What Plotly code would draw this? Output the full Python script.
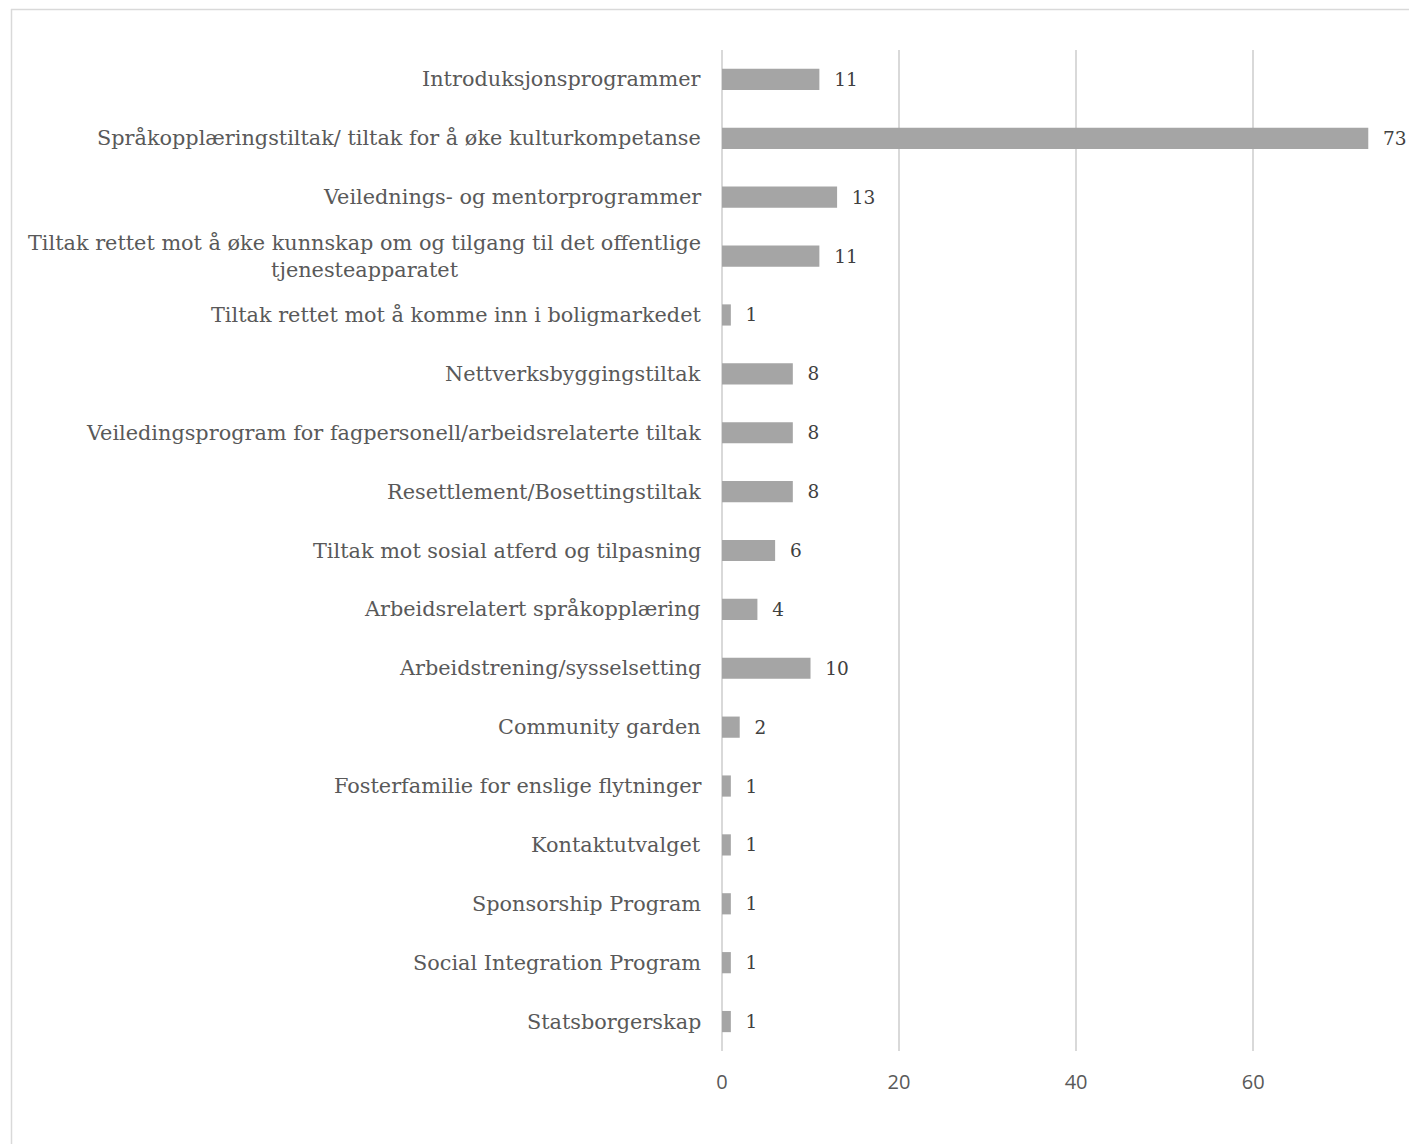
import plotly.graph_objects as go

categories = [
    "Introduksjonsprogrammer",
    "Språkopplæringstiltak/ tiltak for å øke kulturkompetanse",
    "Veilednings- og mentorprogrammer",
    "Tiltak rettet mot å øke kunnskap om og tilgang til det offentlige<br>tjenesteapparatet",
    "Tiltak rettet mot å komme inn i boligmarkedet",
    "Nettverksbyggingstiltak",
    "Veiledingsprogram for fagpersonell/arbeidsrelaterte tiltak",
    "Resettlement/Bosettingstiltak",
    "Tiltak mot sosial atferd og tilpasning",
    "Arbeidsrelatert språkopplæring",
    "Arbeidstrening/sysselsetting",
    "Community garden",
    "Fosterfamilie for enslige flytninger",
    "Kontaktutvalget",
    "Sponsorship Program",
    "Social Integration Program",
    "Statsborgerskap",
]
values = [11, 73, 13, 11, 1, 8, 8, 8, 6, 4, 10, 2, 1, 1, 1, 1, 1]
x_ticks = [0, 20, 40, 60]

W, H = 1409, 1144
L, R, T, B = 722, 0, 50, 93
pw, ph = W - L - R, H - T - B

def px(x):
    return (x - L) / pw

def py(y):
    return 1 - (y - T) / ph

fig = go.Figure(
    go.Bar(
        x=values,
        y=categories,
        orientation="h",
        marker=dict(color="#a5a5a5", line=dict(width=0)),
        width=0.36,
        text=values,
        texttemplate="\u00a0\u00a0%{x}",
        textposition="outside",
        cliponaxis=False,
        constraintext="none",
        textfont=dict(family="DejaVu Serif", size=18.5, color="#404040"),
    )
)

# category labels (centre-aligned when wrapped, like the reference)
for cat in categories:
    fig.add_annotation(
        x=0, xref="paper", y=cat, yref="y",
        text=cat, showarrow=False,
        xanchor="right", yanchor="middle", align="center",
        xshift=-19,
        font=dict(family="DejaVu Serif", size=20.8, color="#595959"),
    )

fig.update_layout(
    width=W,
    height=H,
    margin=dict(l=L, r=R, t=T, b=B, autoexpand=False),
    paper_bgcolor="white",
    plot_bgcolor="white",
    showlegend=False,
    bargap=0.64,
    xaxis=dict(
        range=[0, 77.6],
        tickvals=x_ticks,
        showgrid=True,
        gridcolor="#d9d9d9",
        gridwidth=1.5,
        zeroline=True,
        zerolinecolor="#d9d9d9",
        zerolinewidth=1.5,
        showline=False,
        ticks="",
        ticklabelstandoff=17,
        tickfont=dict(family="Liberation Sans Narrow, Open Sans", size=20, color="#595959"),
    ),
    yaxis=dict(
        autorange="reversed",
        showgrid=False,
        showline=False,
        ticks="",
        showticklabels=False,
    ),
    shapes=[
        dict(type="line", xref="paper", yref="paper",
             x0=px(11), x1=px(1409), y0=py(9.5), y1=py(9.5),
             line=dict(color="#d9d9d9", width=1.5)),
        dict(type="line", xref="paper", yref="paper",
             x0=px(11.5), x1=px(11.5), y0=py(9), y1=py(1144),
             line=dict(color="#d9d9d9", width=1.5)),
    ],
)

fig.write_html("out.html")
